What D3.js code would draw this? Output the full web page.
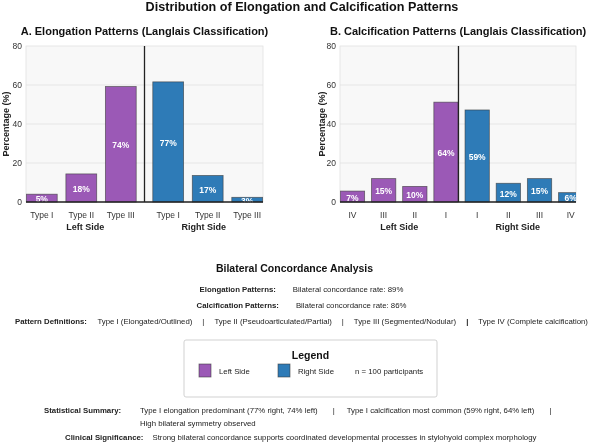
<!DOCTYPE html>
<html><head><meta charset="utf-8">
<script src="https://cdn.jsdelivr.net/npm/d3@7"></script>
<style>
html,body{margin:0;padding:0;background:#fff;}
svg{display:block;font-family:"Liberation Sans",Arial,sans-serif;will-change:transform;}
</style></head>
<body>
<svg id="chart" width="589" height="445"></svg>
<script>
// ---------- DATA ----------
const elongCategories = ["Type I", "Type II", "Type III"];
const elongLeftValues = [4.0, 14.4, 59.2];
const elongRightValues = [61.6, 13.6, 2.4];
const elongLeftLabels = ["5%", "18%", "74%"];
const elongRightLabels = ["77%", "17%", "3%"];

const calcLeftCategories = ["IV", "III", "II", "I"];
const calcRightCategories = ["I", "II", "III", "IV"];
const calcLeftValues = [5.6, 12.0, 8.0, 51.2];
const calcRightValues = [47.2, 9.6, 12.0, 4.8];
const calcLeftLabels = ["7%", "15%", "10%", "64%"];
const calcRightLabels = ["59%", "12%", "15%", "6%"];

const yTicks = [0, 20, 40, 60, 80];
const sideNames = ["Left Side", "Right Side"];

const concordanceRows = [
  ["Elongation Patterns:", "Bilateral concordance rate: 89%"],
  ["Calcification Patterns:", "Bilateral concordance rate: 86%"]
];
const patternDefs = ["Type I (Elongated/Outlined)", "Type II (Pseudoarticulated/Partial)",
  "Type III (Segmented/Nodular)", "Type IV (Complete calcification)"];
const summaryItems = ["Type I elongation predominant (77% right, 74% left)",
  "Type I calcification most common (59% right, 64% left)"];
const summaryLine2 = "High bilateral symmetry observed";
const clinicalText = "Strong bilateral concordance supports coordinated developmental processes in stylohyoid complex morphology";

// ---------- STYLE ----------
const LEFT_COLOR = "#9b59b6", RIGHT_COLOR = "#2e7bb7";
const svg = d3.select("#chart");

svg.append("text").attr("x", 302).attr("y", 7).attr("text-anchor", "middle")
  .attr("dominant-baseline", "central").attr("font-weight", "bold").attr("font-size", 12.6)
  .attr("fill", "#111").text("Distribution of Elongation and Calcification Patterns");

function panel(opts) {
  const {x0, x1, y0, y1, domain, title, leftPos, rightPos, leftCats, rightCats,
    leftVals, rightVals, leftLabels, rightLabels, divider, groupPos, ylabX} = opts;
  const x = d3.scaleLinear().domain(domain).range([x0, x1]);
  const y = d3.scaleLinear().domain([0, 80]).range([y1, y0]);
  const g = svg.append("g");
  const clipId = "clip" + Math.round(x0);
  svg.append("clipPath").attr("id", clipId).append("rect")
    .attr("x", x0).attr("y", y0 - 1).attr("width", x1 - x0).attr("height", y1 - y0 + 2);

  g.append("rect").attr("x", x0).attr("y", y0).attr("width", x1 - x0).attr("height", y1 - y0)
    .attr("fill", "#f8f8f8").attr("stroke", "#e2e2e2").attr("stroke-width", 0.8);
  g.selectAll(".grid").data(yTicks.slice(1, -1)).join("line")
    .attr("x1", x0).attr("x2", x1).attr("y1", d => y(d)).attr("y2", d => y(d))
    .attr("stroke", "#e0e0e0").attr("stroke-width", 0.7);

  const ya = d3.axisLeft(y).tickValues(yTicks).tickSize(0).tickPadding(4);
  const yg = g.append("g").attr("transform", `translate(${x0},0)`).call(ya);
  yg.select(".domain").remove();
  yg.selectAll("text").attr("font-size", 8.5).attr("fill", "#333")
    .attr("font-family", "Liberation Sans, Arial, sans-serif");

  const bars = [];
  leftVals.forEach((v, i) => bars.push({pos: leftPos[i], v, lab: leftLabels[i], c: LEFT_COLOR}));
  rightVals.forEach((v, i) => bars.push({pos: rightPos[i], v, lab: rightLabels[i], c: RIGHT_COLOR}));
  const bw = x(0.78) - x(0);
  const bg = g.append("g").attr("clip-path", `url(#${clipId})`);
  bg.selectAll("rect.bar").data(bars).join("rect").attr("class", "bar")
    .attr("x", d => x(d.pos) - bw / 2).attr("width", bw)
    .attr("y", d => y(d.v)).attr("height", d => y(0) - y(d.v))
    .attr("fill", d => d.c).attr("stroke", "#3a3a3a").attr("stroke-opacity", 0.7).attr("stroke-width", 0.8);
  bg.selectAll("text.bl").data(bars).join("text").attr("class", "bl")
    .attr("x", d => x(d.pos)).attr("y", d => y(d.v / 2) + 1)
    .attr("text-anchor", "middle").attr("dominant-baseline", "central")
    .attr("font-size", 8.5).attr("font-weight", "bold").attr("fill", "#fff").text(d => d.lab);

  g.append("line").attr("x1", x0).attr("x2", x1).attr("y1", y(0)).attr("y2", y(0))
    .attr("stroke", "#222").attr("stroke-width", 1.3);
  g.append("line").attr("x1", x(divider)).attr("x2", x(divider)).attr("y1", y0).attr("y2", y1)
    .attr("stroke", "#222").attr("stroke-width", 1.3);

  const ticks = leftCats.map((c, i) => ({p: leftPos[i], c})).concat(rightCats.map((c, i) => ({p: rightPos[i], c})));
  g.selectAll("text.xt").data(ticks).join("text").attr("class", "xt")
    .attr("x", d => x(d.p)).attr("y", y1 + 13).attr("text-anchor", "middle")
    .attr("dominant-baseline", "central").attr("font-size", 8.5).attr("fill", "#333").text(d => d.c);
  g.selectAll("text.side").data(sideNames).join("text").attr("class", "side")
    .attr("x", (d, i) => x(groupPos[i])).attr("y", y1 + 25).attr("text-anchor", "middle")
    .attr("dominant-baseline", "central").attr("font-size", 9).attr("font-weight", "bold")
    .attr("fill", "#222").text(d => d);

  g.append("text").attr("transform", `translate(${ylabX},${(y0 + y1) / 2}) rotate(-90)`)
    .attr("text-anchor", "middle").attr("dominant-baseline", "central")
    .attr("font-size", 9).attr("font-weight", "bold").attr("fill", "#222").text("Percentage (%)");
  g.append("text").attr("x", (x0 + x1) / 2).attr("y", 31).attr("text-anchor", "middle")
    .attr("dominant-baseline", "central").attr("font-size", 11).attr("font-weight", "bold")
    .attr("fill", "#111").text(title);
}

const eLeftPos = elongCategories.map((d, i) => i);
const eRightPos = elongCategories.map((d, i) => i + 3.2);
panel({x0: 26, x1: 263, y0: 46, y1: 202, domain: [-0.4, 5.6],
  title: "A. Elongation Patterns (Langlais Classification)",
  leftPos: eLeftPos, rightPos: eRightPos, leftCats: elongCategories, rightCats: elongCategories,
  leftVals: elongLeftValues, rightVals: elongRightValues, leftLabels: elongLeftLabels, rightLabels: elongRightLabels,
  divider: 2.6, groupPos: [d3.mean(eLeftPos) + 0.1, d3.mean(eRightPos) - 0.1], ylabX: 6});

const cLeftPos = calcLeftCategories.map((d, i) => i);
const cRightPos = calcRightCategories.map((d, i) => i + 4);
panel({x0: 340, x1: 576, y0: 46, y1: 202, domain: [-0.4, 7.17],
  title: "B. Calcification Patterns (Langlais Classification)",
  leftPos: cLeftPos, rightPos: cRightPos, leftCats: calcLeftCategories, rightCats: calcRightCategories,
  leftVals: calcLeftValues, rightVals: calcRightValues, leftLabels: calcLeftLabels, rightLabels: calcRightLabels,
  divider: 3.4, groupPos: [d3.mean(cLeftPos), d3.mean(cRightPos) - 0.2], ylabX: 322});

// ---------- LOWER TEXT ----------
const FS = 7.8;
function seg(x, y, txt, bold, anchor) {
  return svg.append("text").attr("x", x).attr("y", y).attr("dominant-baseline", "central")
    .attr("text-anchor", anchor || "start").attr("font-size", FS)
    .attr("font-weight", bold ? "bold" : "normal").attr("fill", "#222").text(txt);
}
svg.append("text").attr("x", 294.5).attr("y", 268).attr("text-anchor", "middle")
  .attr("dominant-baseline", "central").attr("font-size", 10.5).attr("font-weight", "bold")
  .attr("fill", "#111").text("Bilateral Concordance Analysis");

concordanceRows.forEach((r, i) => {
  const yy = 289 + i * 16;
  const a = seg(0, yy, r[0], true), b = seg(0, yy, r[1], false);
  const wa = a.node().getComputedTextLength(), wb = b.node().getComputedTextLength();
  const gap = 17, start = 301.5 - (wa + gap + wb) / 2;
  a.attr("x", start); b.attr("x", start + wa + gap);
});

(function () {
  const yy = 321;
  let cx = 15;
  const lab = seg(cx, yy, "Pattern Definitions:", true);
  cx += lab.node().getComputedTextLength() + 10.5;
  patternDefs.forEach((p, i) => {
    const t = seg(cx, yy, p, false);
    cx += t.node().getComputedTextLength() + 10;
    if (i < patternDefs.length - 1) {
      const s = seg(cx, yy, "|", i === 2);
      cx += s.node().getComputedTextLength() + 10;
    }
  });
})();

svg.append("rect").attr("x", 184).attr("y", 340).attr("width", 253).attr("height", 57)
  .attr("rx", 2).attr("fill", "#fff").attr("stroke", "#cccccc").attr("stroke-width", 0.9);
svg.append("text").attr("x", 310.5).attr("y", 355).attr("text-anchor", "middle")
  .attr("dominant-baseline", "central").attr("font-size", 10.5).attr("font-weight", "bold")
  .attr("fill", "#111").text("Legend");
const legendItems = [{c: LEFT_COLOR, t: sideNames[0], x: 199}, {c: RIGHT_COLOR, t: sideNames[1], x: 278}];
legendItems.forEach(d => {
  svg.append("rect").attr("x", d.x).attr("y", 364).attr("width", 12).attr("height", 13)
    .attr("fill", d.c).attr("stroke", "#3a3a3a").attr("stroke-opacity", 0.7).attr("stroke-width", 0.8);
  seg(d.x + 20, 371, d.t, false);
});
seg(355, 371, "n = 100 participants", false);

(function () {
  const yy = 410;
  seg(44, yy, "Statistical Summary:", true);
  let cx = 140;
  summaryItems.forEach(s => {
    const t = seg(cx, yy, s, false);
    cx += t.node().getComputedTextLength() + 15;
    const b = seg(cx, yy, "|", false);
    cx += b.node().getComputedTextLength() + 12;
  });
  seg(140, 423, summaryLine2, false);
  const cl = seg(65, 437, "Clinical Significance:", true);
  seg(65 + cl.node().getComputedTextLength() + 9, 437, clinicalText, false);
})();
</script>
</body></html>
